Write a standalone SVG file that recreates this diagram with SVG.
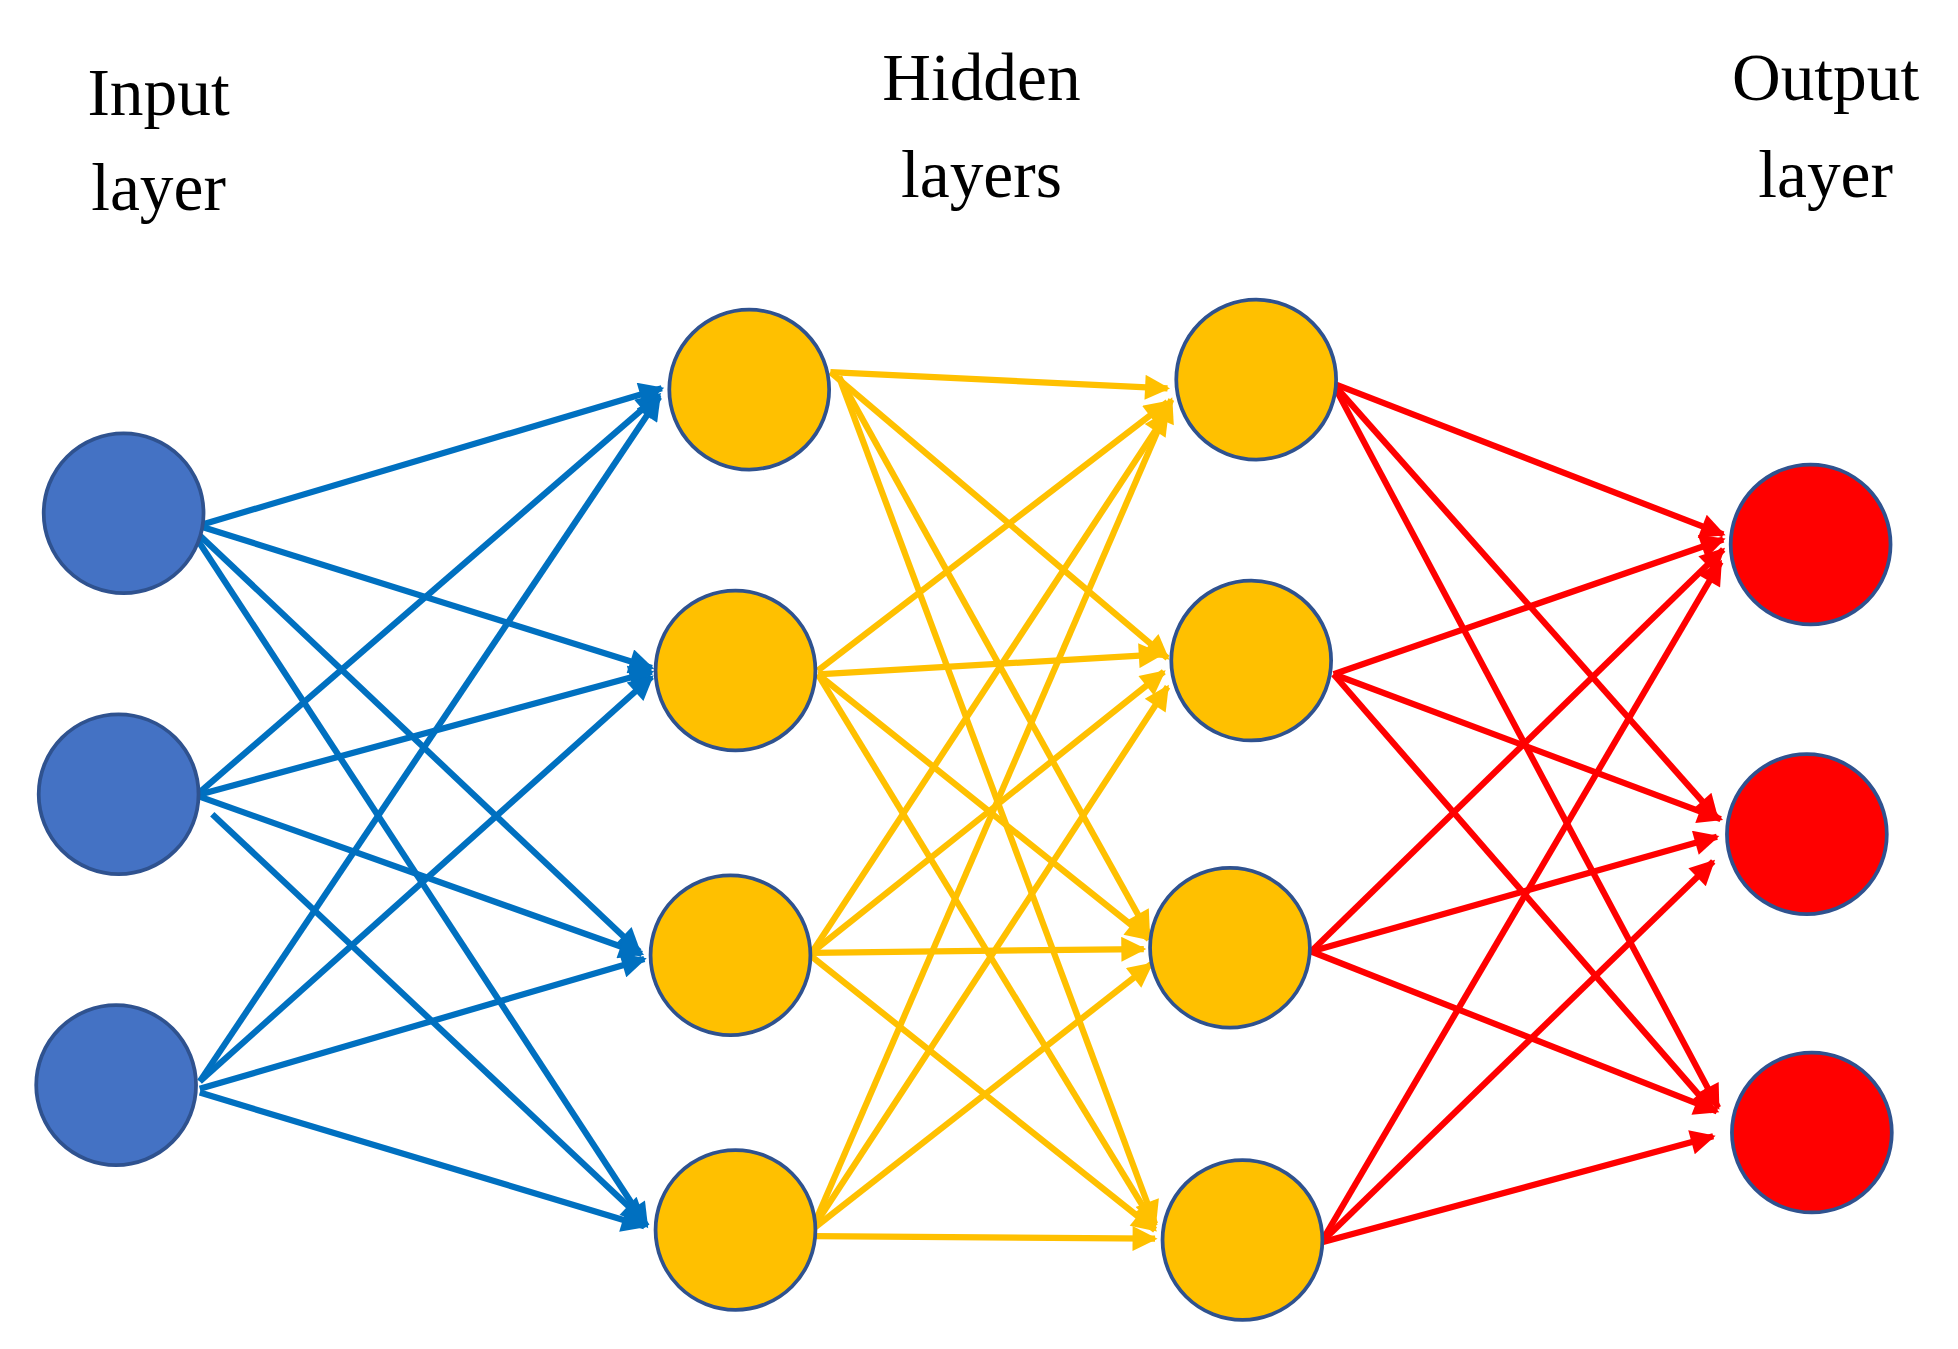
<svg xmlns="http://www.w3.org/2000/svg" width="1958" height="1349" viewBox="0 0 1958 1349">
<defs>
<style>
.t{font-family:"Liberation Serif","Times New Roman",serif;font-size:54px;fill:#000;text-anchor:middle}
.n{stroke:#2F528F;stroke-width:3}
.in{fill:#4472C4}.hd{fill:#FFC000}.ot{fill:#FF0000}
.b{stroke:#0070C0;stroke-width:5;fill:none;marker-end:url(#ab)}
.y{stroke:#FFC000;stroke-width:5;fill:none;marker-end:url(#ay)}
.r{stroke:#FF0000;stroke-width:5;fill:none;marker-end:url(#ar)}
</style>
<marker id="ab" viewBox="0 0 10 10" refX="9" refY="5" markerWidth="4.4" markerHeight="4" orient="auto"><path d="M0,0L10,5L0,10z" fill="#0070C0"/></marker>
<marker id="ay" viewBox="0 0 10 10" refX="9" refY="5" markerWidth="4.4" markerHeight="4" orient="auto"><path d="M0,0L10,5L0,10z" fill="#FFC000"/></marker>
<marker id="ar" viewBox="0 0 10 10" refX="9" refY="5" markerWidth="4.4" markerHeight="4" orient="auto"><path d="M0,0L10,5L0,10z" fill="#FF0000"/></marker>
</defs>
<rect width="1958" height="1349" fill="#fff"/>
<g transform="scale(1.2487)">
<g id="labels">
<text class="t" x="127" y="92">Input</text><text class="t" x="127" y="168">layer</text>
<text class="t" x="786" y="80">Hidden</text><text class="t" x="786" y="158">layers</text>
<text class="t" x="1462" y="80">Output</text><text class="t" x="1462" y="158">layer</text>
</g>
<g id="connectors">
<line class="b" x1="162" y1="420" x2="530" y2="311"/>
<line class="b" x1="162" y1="422" x2="522" y2="535"/>
<line class="b" x1="156" y1="425" x2="512" y2="762"/>
<line class="b" x1="158" y1="432" x2="518" y2="982"/>
<line class="b" x1="157" y1="637" x2="528" y2="316"/>
<line class="b" x1="157" y1="637" x2="522" y2="538"/>
<line class="b" x1="157" y1="637" x2="514" y2="764"/>
<line class="b" x1="170" y1="652" x2="516" y2="978"/>
<line class="b" x1="160" y1="866" x2="528" y2="318"/>
<line class="b" x1="160" y1="866" x2="522" y2="542"/>
<line class="b" x1="160" y1="872" x2="516" y2="768"/>
<line class="b" x1="160" y1="875" x2="516" y2="982"/>
<line class="y" x1="665" y1="298" x2="935" y2="311"/>
<line class="y" x1="665" y1="298" x2="935" y2="527"/>
<line class="y" x1="672" y1="302" x2="920" y2="748"/>
<line class="y" x1="672" y1="302" x2="925" y2="980"/>
<line class="y" x1="655" y1="537" x2="935" y2="322"/>
<line class="y" x1="655" y1="540" x2="930" y2="524"/>
<line class="y" x1="655" y1="540" x2="920" y2="752"/>
<line class="y" x1="655" y1="540" x2="925" y2="982"/>
<line class="y" x1="650" y1="763" x2="935" y2="330"/>
<line class="y" x1="650" y1="763" x2="932" y2="538"/>
<line class="y" x1="650" y1="763" x2="916" y2="760"/>
<line class="y" x1="650" y1="766" x2="925" y2="985"/>
<line class="y" x1="650" y1="985" x2="938" y2="320"/>
<line class="y" x1="650" y1="985" x2="935" y2="550"/>
<line class="y" x1="650" y1="985" x2="922" y2="772"/>
<line class="y" x1="652" y1="990" x2="925" y2="992"/>
<line class="r" x1="1070" y1="308" x2="1380" y2="428"/>
<line class="r" x1="1070" y1="310" x2="1375" y2="655"/>
<line class="r" x1="1070" y1="312" x2="1376" y2="887"/>
<line class="r" x1="1068" y1="540" x2="1380" y2="432"/>
<line class="r" x1="1068" y1="540" x2="1378" y2="656"/>
<line class="r" x1="1068" y1="540" x2="1372" y2="890"/>
<line class="r" x1="1050" y1="762" x2="1380" y2="440"/>
<line class="r" x1="1050" y1="762" x2="1375" y2="670"/>
<line class="r" x1="1050" y1="762" x2="1375" y2="890"/>
<line class="r" x1="1058" y1="995" x2="1378" y2="450"/>
<line class="r" x1="1058" y1="995" x2="1372" y2="690"/>
<line class="r" x1="1058" y1="995" x2="1372" y2="910"/>
</g>
<g id="in1"><circle class="n in" cx="99" cy="411" r="64"/></g>
<g id="in2"><circle class="n in" cx="95" cy="636" r="64"/></g>
<g id="in3"><circle class="n in" cx="93" cy="869" r="64"/></g>
<g id="h1a"><circle class="n hd" cx="600" cy="312" r="64"/></g>
<g id="h1b"><circle class="n hd" cx="589" cy="537" r="64"/></g>
<g id="h1c"><circle class="n hd" cx="585" cy="765" r="64"/></g>
<g id="h1d"><circle class="n hd" cx="589" cy="985" r="64"/></g>
<g id="h2a"><circle class="n hd" cx="1006" cy="304" r="64"/></g>
<g id="h2b"><circle class="n hd" cx="1002" cy="529" r="64"/></g>
<g id="h2c"><circle class="n hd" cx="985" cy="759" r="64"/></g>
<g id="h2d"><circle class="n hd" cx="995" cy="993" r="64"/></g>
<g id="o1"><circle class="n ot" cx="1450" cy="436" r="64"/></g>
<g id="o2"><circle class="n ot" cx="1447" cy="668" r="64"/></g>
<g id="o3"><circle class="n ot" cx="1451" cy="907" r="64"/></g>
</g>
</svg>
